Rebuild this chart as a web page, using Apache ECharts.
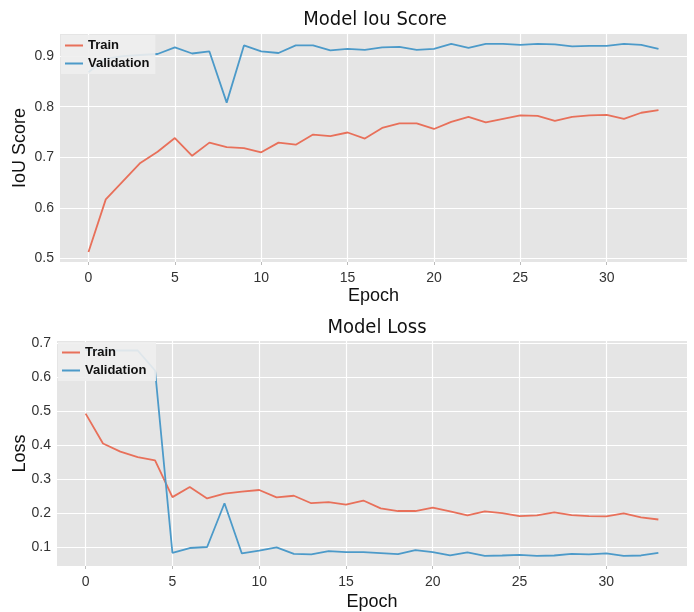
<!DOCTYPE html>
<html><head><meta charset="utf-8">
<script src="https://cdn.jsdelivr.net/npm/echarts@6/dist/echarts.min.js"></script>
<style>html,body{margin:0;padding:0;background:#fff}#c{width:694px;height:612px}</style>
</head><body><div id="c"></div>
<script>
const epochs = Array.from({length:34},(_, i)=>i);
const iouTrain = [0.513,0.617,0.653,0.689,0.711,0.738,0.703,0.729,0.720,0.718,0.710,0.729,0.725,0.745,0.742,0.749,0.737,0.758,0.767,0.767,0.756,0.770,0.780,0.769,0.776,0.783,0.782,0.772,0.780,0.783,0.784,0.776,0.788,0.793];
const iouVal = [0.868,0.895,0.900,0.902,0.904,0.917,0.905,0.909,0.808,0.921,0.909,0.906,0.921,0.921,0.911,0.914,0.912,0.917,0.918,0.912,0.914,0.924,0.916,0.924,0.924,0.922,0.924,0.923,0.919,0.920,0.920,0.924,0.922,0.914];
const lossTrain = [0.493,0.405,0.381,0.365,0.355,0.247,0.277,0.243,0.257,0.263,0.268,0.246,0.251,0.229,0.232,0.225,0.237,0.214,0.206,0.206,0.216,0.205,0.193,0.205,0.200,0.191,0.193,0.202,0.194,0.191,0.190,0.199,0.187,0.181];
const lossVal = [0.680,0.680,0.679,0.679,0.620,0.083,0.097,0.100,0.229,0.081,0.089,0.099,0.080,0.078,0.088,0.085,0.085,0.082,0.079,0.091,0.085,0.075,0.084,0.074,0.075,0.077,0.074,0.075,0.080,0.078,0.081,0.074,0.075,0.083];
const xTicks = [0,5,10,15,20,25,30];
const iouTicks = [0.5,0.6,0.7,0.8,0.9];
const lossTicks = [0.1,0.2,0.3,0.4,0.5,0.6,0.7];

const RED = '#E8705A', BLUE = '#4C9AC9';
const chart = echarts.init(document.getElementById('c'), null, {renderer:'canvas'});
const pairs = arr => arr.map((v,i)=>[epochs[i], v]);
const tickFont = {fontFamily:'Liberation Sans', fontSize:14, color:'#333'};

function xAxis(gi, gap){
  return {type:'value', gridIndex:gi, min:-1.65, max:34.65,
    name:'Epoch', nameLocation:'middle', nameGap:gap,
    nameTextStyle:{fontFamily:'Liberation Sans', fontSize:18, color:'#111'},
    axisLine:{show:false},
    axisTick:{show:true, customValues:xTicks, length:3, lineStyle:{color:'#bbb'}},
    axisLabel:Object.assign({customValues:xTicks, margin:9}, tickFont),
    splitLine:{show:true, lineStyle:{color:'#fff', width:1.2}}};
}
function yAxis(gi, mn, mx, ticks, name, gap){
  return {type:'value', gridIndex:gi, min:mn, max:mx,
    name:name, nameLocation:'middle', nameGap:gap, nameRotate:90, nameMoveOverlap:false,
    nameTextStyle:{fontFamily:'Liberation Sans', fontSize:18, color:'#111'},
    axisLine:{show:false}, axisTick:{show:false, customValues:ticks},
    axisLabel:Object.assign({customValues:ticks, margin:6, formatter:v=>v.toFixed(1)}, tickFont),
    splitLine:{show:true, lineStyle:{color:'#fff', width:1.2}}};
}
function line(name, data, color, gi){
  return {type:'line', name:name, xAxisIndex:gi, yAxisIndex:gi, data:pairs(data),
    showSymbol:false, symbol:'none', lineStyle:{color:color, width:1.8}, itemStyle:{color:color}, z:3};
}
const legendBase = {orient:'vertical', itemWidth:18, itemHeight:2, icon:'rect',
  backgroundColor:'rgba(238,238,238,0.9)', padding:[4,6,4,4], itemGap:5,
  textStyle:{fontFamily:'Liberation Sans', fontSize:13, fontWeight:'bold', color:'#111'}};

chart.setOption({
  animation:false,
  backgroundColor:'#fff',
  title:[
    {text:'Model Iou Score', left:370, top:5, textAlign:'center', textStyle:{fontFamily:'DejaVu Sans Condensed', fontSize:20, fontWeight:'normal', color:'#111'}},
    {text:'Model Loss', left:372, top:313, textAlign:'center', textStyle:{fontFamily:'DejaVu Sans Condensed', fontSize:20, fontWeight:'normal', color:'#111'}}
  ],
  legend:[
    Object.assign({}, legendBase, {left:61, top:35, data:['Train','Validation']}),
    Object.assign({}, legendBase, {left:58, top:342, data:['Train ','Validation ']})
  ],
  grid:[
    {left:60, right:7, top:34, height:228, backgroundColor:'#e5e5e5', show:true, borderWidth:0},
    {left:57, right:7, top:341, height:228, backgroundColor:'#e5e5e5', show:true, borderWidth:0}
  ],
  xAxis:[xAxis(0, 25), xAxis(1, 27)],
  yAxis:[yAxis(0, 0.4933, 0.9435, iouTicks, 'IoU Score', 31), yAxis(1, 0.044, 0.707, lossTicks, 'Loss', 28)],
  series:[
    line('Train', iouTrain, RED, 0),
    line('Validation', iouVal, BLUE, 0),
    line('Train ', lossTrain, RED, 1),
    line('Validation ', lossVal, BLUE, 1)
  ]
});
</script></body></html>
